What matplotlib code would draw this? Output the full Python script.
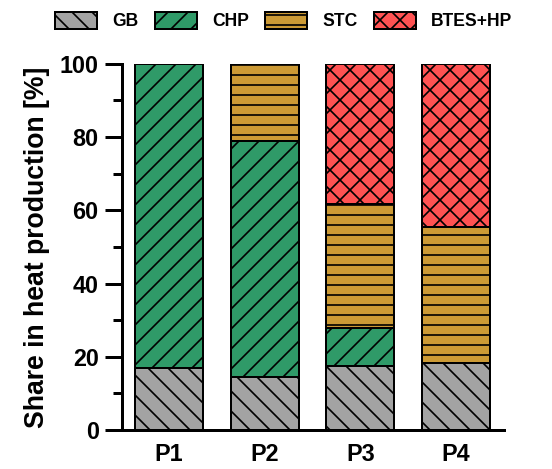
import matplotlib
matplotlib.use("Agg")
import matplotlib.pyplot as plt
import numpy as np

plt.rcParams["font.family"] = ["Liberation Sans", "DejaVu Sans"]
plt.rcParams["font.weight"] = "bold"
plt.rcParams["hatch.linewidth"] = 1.0

# Heat production shares per plant configuration
cases = ["P1", "P2", "P3", "P4"]
gb = [17.0, 14.6, 17.6, 18.2]
chp = [83.0, 64.4, 10.2, 0.0]
stc = [0.0, 21.0, 33.9, 37.2]
btes_hp = [0.0, 0.0, 38.3, 44.6]

series = [
    ("GB", gb, "#a3a3a3", "\\\\"),
    ("CHP", chp, "#2f9a68", "//"),
    ("STC", stc, "#cc9a35", "--"),
    ("BTES+HP", btes_hp, "#ff5252", "xx"),
]

dpi = 120
fig = plt.figure(figsize=(552 / dpi, 469 / dpi), dpi=dpi)
ax = fig.add_axes([0.221, 0.083, 0.692, 0.781])

x = np.arange(len(cases))
bottom = np.zeros(len(cases))
handles = []
for name, vals, color, hatch in series:
    vals = np.array(vals)
    bars = ax.bar(x, vals, width=0.71, bottom=bottom, color=color,
                  edgecolor="black", linewidth=1.2, hatch=hatch, label=name)
    handles.append(bars)
    bottom += vals

ax.set_xlim(-0.49, 3.5)
ax.set_ylim(0, 100)
ax.set_yticks(np.arange(0, 101, 20))
ax.set_yticks(np.arange(10, 100, 20), minor=True)
ax.set_xticks(x)
ax.set_xticklabels(cases, fontsize=14, fontweight="bold")
ax.tick_params(axis="x", length=0, pad=8)
ax.tick_params(axis="y", which="major", length=10, width=1.8, labelsize=14, pad=4)
ax.tick_params(axis="y", which="minor", length=5.5, width=1.8)
for lab in ax.get_yticklabels():
    lab.set_fontweight("bold")

for side in ("top", "right"):
    ax.spines[side].set_visible(False)
for side in ("left", "bottom"):
    ax.spines[side].set_linewidth(1.8)

ax.set_ylabel("Share in heat production [%]", fontsize=16, fontweight="bold", labelpad=6)

fig.legend(handles=handles, labels=[s[0] for s in series], loc="center",
           bbox_to_anchor=(0.514, 0.955), ncol=4, frameon=False,
           prop={"weight": "bold", "size": 10.5},
           handlelength=2.4, handleheight=1.1, handletextpad=0.85,
           columnspacing=0.95)

fig.savefig("out.png", dpi=dpi)
